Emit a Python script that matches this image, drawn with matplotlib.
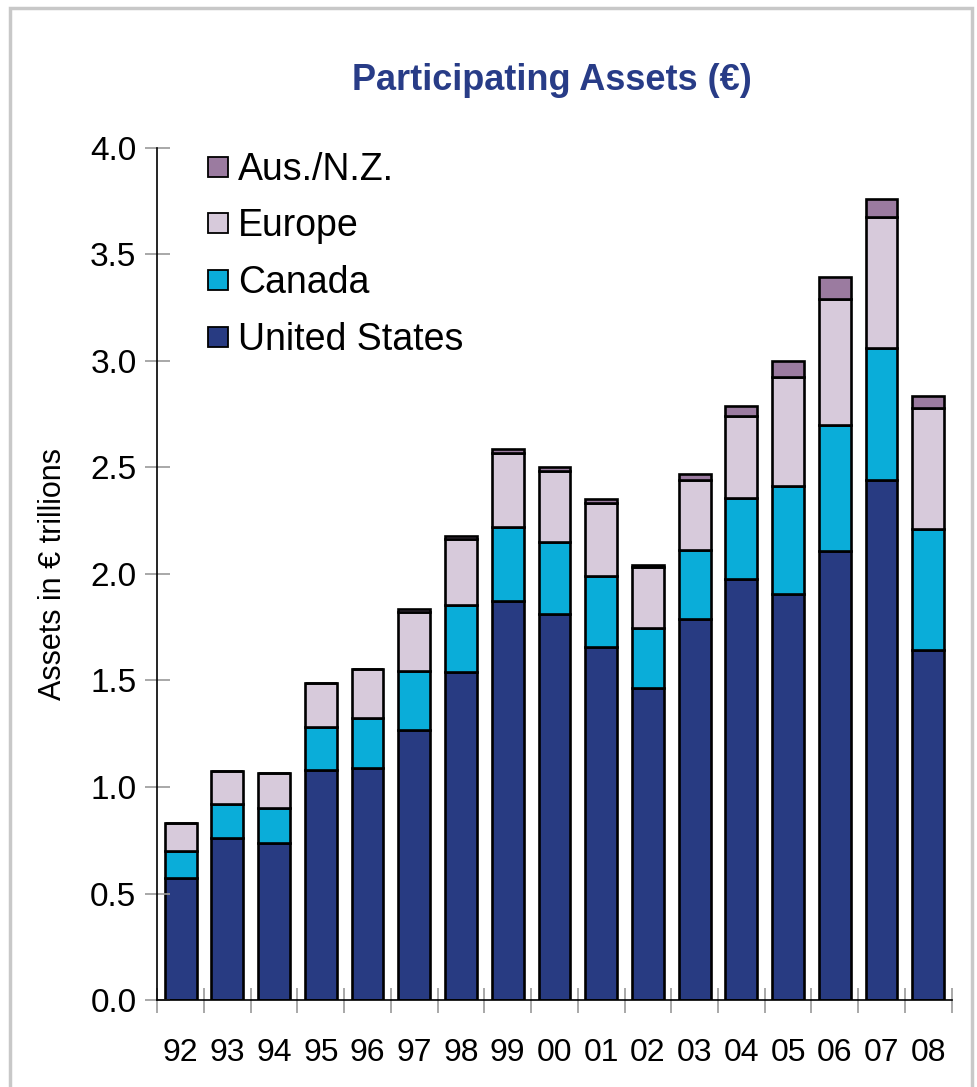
import numpy as np
import matplotlib.pyplot as plt
from matplotlib.patches import Rectangle
from matplotlib.lines import Line2D

# values (EUR trillions, per region, stacked)
years = ['92', '93', '94', '95', '96', '97', '98', '99', '00',
         '01', '02', '03', '04', '05', '06', '07', '08']
us = [0.573, 0.762, 0.735, 1.078, 1.088, 1.268, 1.538, 1.875, 1.811,
      1.656, 1.463, 1.787, 1.975, 1.905, 2.108, 2.441, 1.643]
canada = [0.127, 0.157, 0.165, 0.204, 0.234, 0.277, 0.315, 0.347, 0.338,
          0.336, 0.285, 0.326, 0.383, 0.508, 0.592, 0.618, 0.568]
europe = [0.130, 0.158, 0.167, 0.205, 0.234, 0.275, 0.310, 0.345, 0.336,
          0.340, 0.286, 0.328, 0.384, 0.510, 0.591, 0.618, 0.570]
ausnz = [0.0, 0.0, 0.0, 0.0, 0.0, 0.017, 0.017, 0.021, 0.019,
         0.019, 0.008, 0.027, 0.045, 0.075, 0.105, 0.082, 0.055]

series = [('United States', us, '#283B82'),
          ('Canada', canada, '#0AADD9'),
          ('Europe', europe, '#D7CADB'),
          ('Aus./N.Z.', ausnz, '#9B7BA0')]

narrow = ['Liberation Sans Narrow', 'Liberation Sans', 'DejaVu Sans']
regular = ['Liberation Sans', 'DejaVu Sans']

fig = plt.figure(figsize=(9.77, 10.87), dpi=100)
ax = fig.add_axes([0.161, 0.080, 0.813, 0.784])

x = np.arange(len(years))
bottom = np.zeros(len(years))
handles = []
for name, vals, col in series:
    vals = np.array(vals)
    ax.bar(x, vals, width=0.68, bottom=bottom, color=col,
           edgecolor='black', linewidth=1.9)
    bottom += vals
    handles.append(Line2D([], [], marker='s', linestyle='none',
                          markersize=14, markerfacecolor=col,
                          markeredgecolor='black', markeredgewidth=1.3,
                          label=name))

ax.set_xlim(-0.5, len(years) - 0.5)
ax.set_ylim(0, 4.0)
ax.set_yticks(np.arange(0, 4.01, 0.5))
ax.set_yticklabels([f'{v:.1f}' for v in np.arange(0, 4.01, 0.5)],
                   family=narrow, fontsize=24)
ax.set_xticks(x)
ax.set_xticklabels(years, family=narrow, fontsize=23)
ax.set_xticks(np.arange(-0.5, len(years)), minor=True)
ax.tick_params(axis='x', which='major', length=0, pad=27)
ax.tick_params(axis='x', which='minor', direction='inout', length=18,
               color='#999999', width=1.2)
ax.tick_params(axis='y', direction='inout', length=18, color='#999999',
               width=1.2, pad=6)

for s in ['top', 'right']:
    ax.spines[s].set_visible(False)
for s in ['left', 'bottom']:
    ax.spines[s].set_linewidth(1.2)

ax.set_ylabel('Assets in € trillions', family=regular, fontsize=22,
              labelpad=16)

leg = ax.legend(handles=handles[::-1], loc='upper left',
                bbox_to_anchor=(0.01, 1.035), frameon=False,
                prop={'family': regular, 'size': 27},
                handletextpad=0.05, labelspacing=0.55, handlelength=1.0)

fig.text(0.565, 0.926, 'Participating Assets (€)', ha='center', va='center',
         family=narrow, fontsize=26, fontweight='bold', color='#283C87')

# grey frame around the whole chart
fig.patches.append(Rectangle((10 / 977, -0.05), 962 / 977, 1.05 - 8 / 1087,
                             transform=fig.transFigure, fill=False,
                             edgecolor='#c8c8c8', linewidth=2.5))

fig.savefig('out.png', dpi=100)
